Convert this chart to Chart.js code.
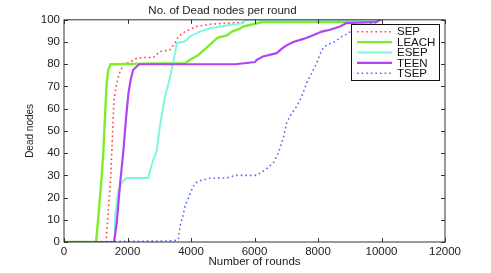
<!DOCTYPE html>
<html>
<head>
<meta charset="utf-8">
<script src="https://cdn.jsdelivr.net/npm/chart.js@4/dist/chart.umd.min.js"></script>
<style>
  html, body { margin: 0; padding: 0; background: #ffffff; }
  #wrap { width: 491px; height: 273px; }
</style>
</head>
<body>
<div id="wrap"><canvas id="c" width="491" height="273"></canvas></div>
<script>
const chartTitle = "No. of Dead nodes per round";
const xTitle = "Number of rounds";
const yTitle = "Dead nodes";
const seriesNames = ["SEP", "LEACH", "ESEP", "TEEN", "TSEP"];

const sepRounds   = [0, 1325, 1395, 1470, 1530, 1575, 1660, 1745, 1870, 2080, 2290, 2490, 2810, 3020, 3340, 3500, 3600, 3810, 4180, 4600, 5540, 5700, 5760, 10000];
const sepValues   = [0, 0, 14, 29, 49, 64, 71.5, 76, 80, 81, 82.7, 83, 83, 85.7, 86.5, 89.6, 92.5, 94.7, 97, 98, 98.8, 99, 100, 100];

const leachRounds = [0, 1010, 1080, 1185, 1240, 1290, 1345, 1395, 1470, 3810, 3970, 4220, 4380, 4540, 4760, 4850, 5130, 5290, 5540, 5640, 5960, 6240, 9850];
const leachValues = [0, 0, 11, 29, 41, 56, 71.5, 77.5, 80, 80.5, 82, 84, 86, 88, 91, 92, 93, 94.7, 96, 97, 98, 99, 99];

const esepRounds  = [0, 1575, 1605, 1710, 1815, 1975, 2655, 2710, 2810, 2920, 3020, 3180, 3280, 3390, 3500, 3550, 3810, 3970, 4280, 4600, 5230, 5640, 5700, 10000];
const esepValues  = [0, 0, 11, 23, 26.6, 28.8, 28.8, 32, 37, 41, 52, 65.5, 70.7, 77.5, 85, 89.5, 90.2, 92.5, 94.7, 96.2, 97.7, 98.5, 100, 100];

const teenRounds  = [0, 1575, 1660, 1765, 1870, 1955, 2030, 2100, 2180, 2370, 5390, 6020, 6070, 6270, 6700, 6860, 7010, 7220, 7540, 7750, 8120, 8380, 8690, 8900, 9850, 9950, 10000];
const teenValues  = [0, 0, 8.4, 26, 41, 56, 67, 73, 77.5, 80, 80, 81, 82, 83.5, 85, 87, 88.5, 90, 91.4, 92.5, 94.7, 95.5, 97, 98.5, 99, 100, 100];

const tsepRounds  = [0, 3440, 3600, 3650, 3740, 3810, 3915, 4020, 4125, 4280, 4600, 5120, 5390, 6070, 6330, 6590, 6750, 6910, 7010, 7170, 7330, 7490, 7640, 7800, 7960, 8120, 8280, 8540, 8750, 8850, 9100, 9500, 9900];
const tsepValues  = [0, 0.5, 1, 7, 11.4, 16, 19.7, 23.4, 26.4, 27.6, 28.7, 28.8, 30, 30, 32.4, 35.5, 40, 47, 53.5, 58, 61, 65.5, 71.5, 76, 80.5, 86.5, 88.7, 90.2, 92.5, 93, 95.5, 97.5, 99];

const xTicksMax = 12000, xTickStep = 2000;
const yTicksMax = 100, yTickStep = 10;

function pts(xs, ys) { return xs.map((x, i) => ({ x: x, y: ys[i] })); }

const FONT = "'Liberation Sans', Arial, Helvetica, sans-serif";

const frameAndLegend = {
  id: 'frameAndLegend',
  afterDatasetsDraw(chart) {
    const { ctx, chartArea: a, scales } = chart;
    ctx.save();
    ctx.strokeStyle = '#333';
    ctx.lineWidth = 1;
    const tl = 4;
    scales.x.ticks.forEach(t => {
      const px = Math.round(scales.x.getPixelForValue(t.value)) + 0.5;
      ctx.beginPath();
      ctx.moveTo(px, a.bottom); ctx.lineTo(px, a.bottom - tl);
      ctx.moveTo(px, a.top); ctx.lineTo(px, a.top + tl);
      ctx.stroke();
    });
    scales.y.ticks.forEach(t => {
      const py = Math.round(scales.y.getPixelForValue(t.value)) + 0.5;
      ctx.beginPath();
      ctx.moveTo(a.left, py); ctx.lineTo(a.left + tl, py);
      ctx.moveTo(a.right, py); ctx.lineTo(a.right - tl, py);
      ctx.stroke();
    });
    ctx.strokeStyle = '#333';
    ctx.lineWidth = 1;
    ctx.strokeRect(a.left, a.top, a.right - a.left, a.bottom - a.top);
    ctx.restore();
  },
  afterDraw(chart) {
    const { ctx } = chart;
    ctx.save();
    const bx = 351.5, by = 24.5, bw = 88, bh = 56;
    ctx.fillStyle = '#ffffff';
    ctx.fillRect(bx, by, bw, bh);
    ctx.strokeStyle = '#111';
    ctx.lineWidth = 1;
    ctx.strokeRect(bx, by, bw, bh);
    ctx.font = "11.5px " + FONT;
    ctx.textBaseline = 'middle';
    ctx.textAlign = 'left';
    chart.data.datasets.forEach((ds, i) => {
      const y = 31.7 + i * 10.4;
      ctx.strokeStyle = ds.borderColor;
      ctx.lineWidth = ds.borderWidth;
      ctx.setLineDash(ds.borderDash || []);
      ctx.beginPath();
      ctx.moveTo(357, y); ctx.lineTo(392, y);
      ctx.stroke();
      ctx.setLineDash([]);
      ctx.fillStyle = '#111';
      ctx.fillText(ds.label, 397, y + 0.5);
    });
    ctx.restore();
  }
};

const ctx = document.getElementById('c').getContext('2d');
new Chart(ctx, {
  type: 'line',
  data: {
    datasets: [
      { label: seriesNames[0], data: pts(sepRounds, sepValues), borderColor: '#ff4040', borderWidth: 1.6, borderDash: [1.6, 3], order: 5 },
      { label: seriesNames[1], data: pts(leachRounds, leachValues), borderColor: '#7fec2a', borderWidth: 2.4, order: 4 },
      { label: seriesNames[2], data: pts(esepRounds, esepValues), borderColor: '#7ff7e0', borderWidth: 2, order: 3 },
      { label: seriesNames[3], data: pts(teenRounds, teenValues), borderColor: '#b044f4', borderWidth: 2.2, order: 2 },
      { label: seriesNames[4], data: pts(tsepRounds, tsepValues), borderColor: '#5068ff', borderWidth: 1.6, borderDash: [1.6, 3], order: 1 }
    ]
  },
  options: {
    responsive: false,
    animation: false,
    devicePixelRatio: 1,
    elements: { point: { radius: 0 }, line: { tension: 0, fill: false } },
    layout: { padding: { left: 0, right: 46, top: 0, bottom: 0 } },
    plugins: {
      legend: { display: false },
      tooltip: { enabled: false },
      title: {
        display: true,
        text: chartTitle,
        color: '#222',
        font: { family: FONT, size: 11.5, weight: 'normal' },
        padding: { top: 4, bottom: 2 }
      }
    },
    scales: {
      x: {
        type: 'linear',
        min: 0, max: xTicksMax,
        grid: { display: false, drawTicks: false },
        border: { display: false },
        ticks: { stepSize: xTickStep, color: '#222', font: { family: FONT, size: 11.5 }, padding: 3, maxRotation: 0, autoSkip: false,
                 callback: (v) => String(v) },
        title: { display: true, text: xTitle, color: '#222', font: { family: FONT, size: 11.5 }, padding: { top: 0, bottom: 4 } },
        afterFit(scale) { scale.height = 31; }
      },
      y: {
        min: 0, max: yTicksMax,
        grid: { display: false, drawTicks: false },
        border: { display: false },
        ticks: { stepSize: yTickStep, color: '#222', font: { family: FONT, size: 11.5 }, padding: 4,
                 callback: (v) => String(v) },
        title: { display: true, text: yTitle, color: '#222', font: { family: FONT, size: 10 }, padding: { top: 24, bottom: 0 } },
        afterFit(scale) { scale.width = 64; }
      }
    }
  },
  plugins: [frameAndLegend]
});
</script>
</body>
</html>
